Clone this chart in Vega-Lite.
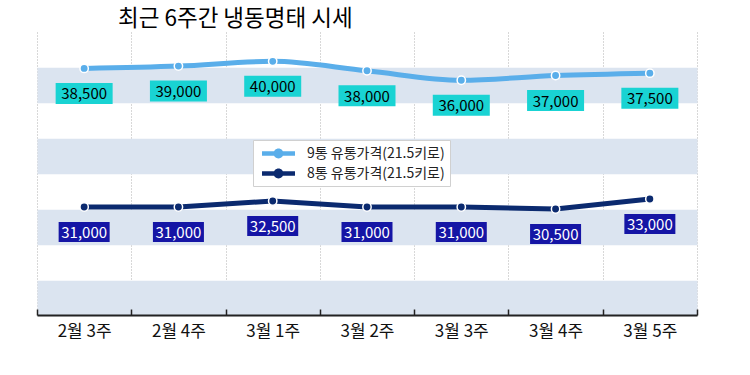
{
  "$schema": "https://vega.github.io/schema/vega-lite/v6.json",
  "width": 660,
  "height": 283,
  "autosize": {"type": "none"},
  "padding": {"left": 37, "top": 32, "right": 53, "bottom": 60},
  "background": "white",
  "config": {"view": {"stroke": null}, "font": "Noto Sans CJK KR"},
  "title": {
    "text": "최근 6주간 냉동명태 시세",
    "anchor": "start",
    "frame": "group",
    "dx": 81,
    "fontSize": 22.5,
    "fontWeight": "normal",
    "color": "#000000",
    "font": "Noto Sans CJK KR",
    "baseline": "bottom",
    "offset": -21
  },
  "data": {
    "values": [
      {"week": "2월 3주", "series": "9통 유통가격(21.5키로)", "value": 38500},
      {"week": "2월 4주", "series": "9통 유통가격(21.5키로)", "value": 39000},
      {"week": "3월 1주", "series": "9통 유통가격(21.5키로)", "value": 40000},
      {"week": "3월 2주", "series": "9통 유통가격(21.5키로)", "value": 38000},
      {"week": "3월 3주", "series": "9통 유통가격(21.5키로)", "value": 36000},
      {"week": "3월 4주", "series": "9통 유통가격(21.5키로)", "value": 37000},
      {"week": "3월 5주", "series": "9통 유통가격(21.5키로)", "value": 37500},
      {"week": "2월 3주", "series": "8통 유통가격(21.5키로)", "value": 31000},
      {"week": "2월 4주", "series": "8통 유통가격(21.5키로)", "value": 31000},
      {"week": "3월 1주", "series": "8통 유통가격(21.5키로)", "value": 32500},
      {"week": "3월 2주", "series": "8통 유통가격(21.5키로)", "value": 31000},
      {"week": "3월 3주", "series": "8통 유통가격(21.5키로)", "value": 31000},
      {"week": "3월 4주", "series": "8통 유통가격(21.5키로)", "value": 30500},
      {"week": "3월 5주", "series": "8통 유통가격(21.5키로)", "value": 33000}
    ]
  },
  "encoding": {
    "x": {
      "field": "week",
      "type": "ordinal",
      "sort": null,
      "scale": {"type": "band", "paddingInner": 0, "paddingOuter": 0},
      "axis": {
        "title": null,
        "labelAngle": 0,
        "labelFontSize": 17,
        "labelColor": "#111111",
        "labelFont": "Noto Sans CJK KR",
        "labelPadding": 14,
        "tickBand": "extent",
        "tickColor": "#222222",
        "tickWidth": 1.5,
        "tickSize": -6,
        "domainColor": "#222222",
        "domainWidth": 2,
        "grid": true,
        "gridColor": "#b0b0b0",
        "gridDash": [1, 2],
        "gridWidth": 1
      }
    }
  },
  "layer": [
    {
      "transform": [{"filter": "datum.series === '9통 유통가격(21.5키로)'"}],
      "encoding": {
        "y": {
          "field": "value",
          "type": "quantitative",
          "scale": {"domain": [-13592, 46197], "nice": false, "zero": false},
          "axis": {
            "values": [35000, 20000, 5000, -10000],
            "grid": true,
            "gridColor": "#dbe4f0",
            "gridWidth": 35.5,
            "labels": false,
            "ticks": false,
            "domain": false,
            "title": null
          }
        }
      },
      "layer": [
        {"mark": {"type": "line", "color": "#5aaeea", "strokeWidth": 5, "interpolate": "monotone"}},
        {
          "mark": {"type": "point", "filled": true, "size": 70, "stroke": "white", "strokeWidth": 1.5, "opacity": 1},
          "encoding": {
            "color": {
              "field": "series",
              "type": "nominal",
              "scale": {"domain": ["9통 유통가격(21.5키로)", "8통 유통가격(21.5키로)"], "range": ["#5aaeea", "#0b2a6f"]},
              "legend": {
                "title": null,
                "orient": "none",
                "legendX": 216,
                "legendY": 108,
                "symbolType": "M-2,-0.28H2V0.28H-2Z M0.6,0A0.6,0.6 0 1 1 -0.6,0A0.6,0.6 0 1 1 0.6,0Z",
                "symbolSize": 272,
                "symbolOffset": 12,
                "symbolStrokeWidth": 0,
                "symbolOpacity": 1,
                "labelFontSize": 14,
                "labelColor": "#222222",
                "labelFont": "Noto Sans CJK KR",
                "fillColor": "white",
                "strokeColor": "#d0d0d0",
                "padding": 5,
                "rowPadding": 4,
                "labelOffset": 20
              }
            }
          }
        },
        {
          "mark": {"type": "point", "shape": "M-1,-0.368H1V0.368H-1Z", "size": 3249, "filled": true, "color": "#19d3d3", "opacity": 1, "strokeWidth": 0, "yOffset": 25}
        },
        {
          "mark": {"type": "text", "yOffset": 26, "fontSize": 15, "color": "#000000", "font": "Noto Sans CJK KR"},
          "encoding": {"text": {"field": "value", "type": "quantitative", "format": ","}}
        }
      ]
    },
    {
      "transform": [{"filter": "datum.series === '8통 유통가격(21.5키로)'"}],
      "encoding": {
        "y": {
          "field": "value",
          "type": "quantitative",
          "scale": {"domain": [4000, 74750], "nice": false, "zero": false},
          "axis": null
        }
      },
      "layer": [
        {"mark": {"type": "line", "color": "#0b2a6f", "strokeWidth": 5}},
        {
          "mark": {"type": "point", "filled": true, "size": 70, "stroke": "white", "strokeWidth": 1.5, "opacity": 1},
          "encoding": {
            "color": {
              "field": "series",
              "type": "nominal",
              "scale": {"domain": ["9통 유통가격(21.5키로)", "8통 유통가격(21.5키로)"], "range": ["#5aaeea", "#0b2a6f"]},
              "legend": {
                "title": null,
                "orient": "none",
                "legendX": 216,
                "legendY": 108,
                "symbolType": "M-2,-0.28H2V0.28H-2Z M0.6,0A0.6,0.6 0 1 1 -0.6,0A0.6,0.6 0 1 1 0.6,0Z",
                "symbolSize": 272,
                "symbolOffset": 12,
                "symbolStrokeWidth": 0,
                "symbolOpacity": 1,
                "labelFontSize": 14,
                "labelColor": "#222222",
                "labelFont": "Noto Sans CJK KR",
                "fillColor": "white",
                "strokeColor": "#d0d0d0",
                "padding": 5,
                "rowPadding": 4,
                "labelOffset": 20
              }
            }
          }
        },
        {
          "mark": {"type": "point", "shape": "M-1,-0.392H1V0.392H-1Z", "size": 2601, "filled": true, "color": "#1515a5", "opacity": 1, "strokeWidth": 0, "yOffset": 25}
        },
        {
          "mark": {"type": "text", "yOffset": 26, "fontSize": 15, "color": "#ffffff", "font": "Noto Sans CJK KR"},
          "encoding": {"text": {"field": "value", "type": "quantitative", "format": ","}}
        }
      ]
    }
  ],
  "resolve": {"scale": {"y": "independent"}}
}
